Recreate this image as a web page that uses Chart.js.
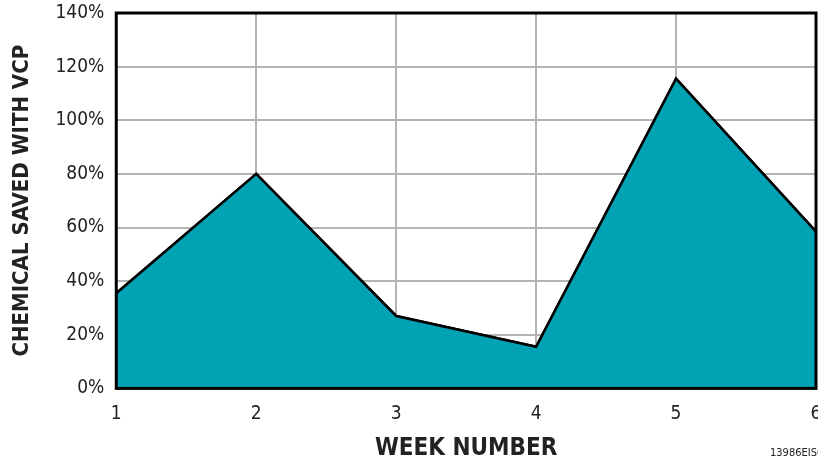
<!DOCTYPE html>
<html>
<head>
<meta charset="utf-8">
<script src="https://cdn.jsdelivr.net/npm/chart.js@4"></script>
<style>
  body { margin: 0; background: #fff; }
  canvas { display: block; }
</style>
</head>
<body>
<canvas id="chart" width="818" height="463"></canvas>
<script>
const weeks = ["1", "2", "3", "4", "5", "6"];
const savedPct = [35.5, 80, 27, 15.5, 115.5, 58.5];
const yTicks = [0, 20, 40, 60, 80, 100, 120, 140];

const narrow = "'Liberation Sans Narrow', 'DejaVu Sans Condensed', sans-serif";

// frame around the plot + footnote
const framePlugin = {
    id: "frame",
    afterDraw(chart) {
        const { ctx, chartArea } = chart;
        // black outline drawn on top of grid
        const line = chart.getDatasetMeta(1);
        ctx.save();
        ctx.beginPath();
        ctx.rect(chartArea.left, chartArea.top, chartArea.right - chartArea.left, chartArea.bottom - chartArea.top);
        ctx.clip();
        line.dataset.draw(ctx, chartArea);
        ctx.restore();

        ctx.save();
        ctx.strokeStyle = "#000";
        ctx.lineWidth = 3;
        ctx.strokeRect(chartArea.left, chartArea.top, chartArea.right - chartArea.left, chartArea.bottom - chartArea.top);
        ctx.fillStyle = "#222";
        ctx.font = "11px " + narrow;
        ctx.textAlign = "left";
        ctx.textBaseline = "alphabetic";
        ctx.fillText("13986EISG001", 770, 456);
        ctx.restore();
    },
};

// let tick labels overhang the plot edges like the original
function noEdgePadding(scale) {
    scale.paddingTop = 0;
    scale.paddingBottom = 0;
    scale.paddingLeft = 0;
    scale.paddingRight = 0;
}

new Chart(document.getElementById("chart"), {
    type: "line",
    data: {
        labels: weeks,
        datasets: [
            {
                data: savedPct,
                fill: "origin",
                backgroundColor: "#00a2b4",
                borderWidth: 0,
                pointRadius: 0,
                tension: 0,
            },
            {
                data: savedPct,
                fill: false,
                borderColor: "#000",
                borderWidth: 2.5,
                pointRadius: 0,
                tension: 0,
            },
        ],
    },
    options: {
        responsive: false,
        animation: false,
        layout: { padding: { top: 13, right: 2, left: 9, bottom: 0 } },
        plugins: { legend: { display: false }, tooltip: { enabled: false } },
        scales: {
            x: {
                z: 1,
                offset: false,
                afterFit: noEdgePadding,
                grid: { color: "#b3b3b3", lineWidth: 2, drawTicks: false },
                border: { display: false },
                ticks: {
                    color: "#222",
                    padding: 14,
                    maxRotation: 0,
                    font: { family: narrow, size: 19 },
                },
                title: {
                    display: true,
                    text: "WEEK NUMBER",
                    color: "#222",
                    padding: { top: -5, bottom: 0 },
                    font: { family: narrow, size: 24, weight: "bold" },
                },
            },
            y: {
                z: 1,
                min: 0,
                max: 140,
                afterFit: noEdgePadding,
                afterBuildTicks(scale) {
                    scale.ticks = yTicks.map((v) => ({ value: v }));
                },
                grid: { color: "#b3b3b3", lineWidth: 2, drawTicks: false },
                border: { display: false },
                ticks: {
                    color: "#222",
                    padding: 12,
                    font: { family: narrow, size: 19 },
                    callback: (v) => v + "%",
                },
                title: {
                    display: true,
                    text: "CHEMICAL SAVED WITH VCP",
                    color: "#222",
                    padding: { top: 0, bottom: 8 },
                    font: { family: narrow, size: 22, weight: "bold" },
                },
            },
        },
    },
    plugins: [framePlugin],
});
</script>
</body>
</html>
